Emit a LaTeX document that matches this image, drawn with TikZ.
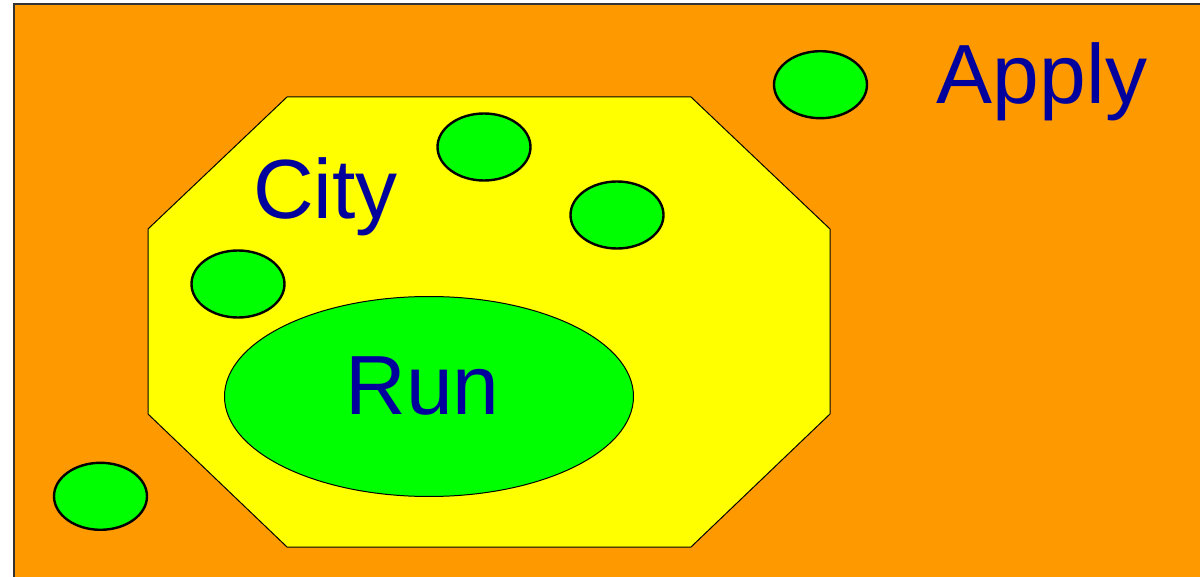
\documentclass[tikz,border=0pt]{standalone}
\usepackage{fontspec}
\setmainfont{Liberation Sans}
\usetikzlibrary{shapes.geometric}
\definecolor{bgorange}{HTML}{FF9900}
\definecolor{octyellow}{HTML}{FFFF00}
\definecolor{blobgreen}{HTML}{00FF00}
\definecolor{txtblue}{HTML}{00009C}
\tikzset{
  blob/.style={ellipse, draw=black, fill=blobgreen, line width=2.4pt, minimum width=93pt, minimum height=67pt, inner sep=0pt, outer sep=0pt},
  bigblob/.style={ellipse, draw=black, fill=blobgreen, line width=1pt, minimum width=409pt, minimum height=200pt, inner sep=0pt, outer sep=0pt},
  label/.style={text=txtblue, font=\fontsize{84}{100}\selectfont, inner sep=0pt, anchor=base}
}
\begin{document}
\begin{tikzpicture}[x=1pt,y=-1pt]
\useasboundingbox (0,0) rectangle (1200,577);
\clip (0,0) rectangle (1200,577);
\fill[white] (0,0) rectangle (1200,577);
\draw[fill=bgorange, draw=black!80, line width=1.4pt] (14,4) rectangle (1215,600);
\draw[fill=octyellow, draw=black, line width=1pt]
  (287,97) -- (691,97) -- (830,229) -- (830,414) -- (691,547) -- (287,547) -- (148,414) -- (148,229) -- cycle;
\node[bigblob] (run) at (429,396.5) {};
\node[blob] (b1) at (820.5,84.7) {};
\node[blob] (b2) at (484,147) {};
\node[blob] (b3) at (617,215) {};
\node[blob] (b4) at (238,284) {};
\node[blob] (b5) at (100.5,496.3) {};
\node[label] (apply) at (1042,104) {Apply};
\node[label] (city) at (325.5,219) {City};
\node[label] (runtxt) at (422.5,414) {Run};
\end{tikzpicture}
\end{document}
